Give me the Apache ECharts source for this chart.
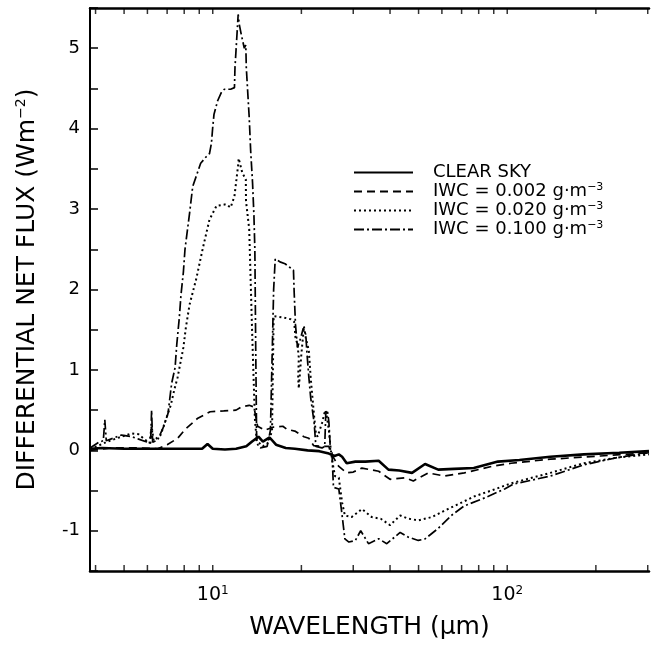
<!DOCTYPE html>
<html><head><meta charset="utf-8">
<script src="https://cdn.jsdelivr.net/npm/echarts@6/dist/echarts.min.js"></script>
<style>html,body{margin:0;padding:0;background:#fff}#c{width:652px;height:645px}</style>
</head><body><div id="c"></div>
<script>
const seriesNames = ['CLEAR SKY', 'IWC = 0.002 g·m-3', 'IWC = 0.020 g·m-3', 'IWC = 0.100 g·m-3'];

const clearSky = [[3.83,0.02],[4.2,0.03],[5,0.02],[6,0.02],[7,0.02],[8,0.02],[9.2,0.02],[9.6,0.08],[10.0,0.02],[11,0.01],[12,0.02],[13,0.05],[13.6,0.11],[14.3,0.17],[14.8,0.11],[15.6,0.16],[16.4,0.07],[17.7,0.03],[19,0.02],[21,0.0],[23,-0.01],[24.8,-0.04],[25.9,-0.07],[26.8,-0.05],[27.5,-0.08],[28.5,-0.16],[30.5,-0.14],[33,-0.14],[36.6,-0.13],[39.5,-0.24],[43,-0.25],[47.5,-0.28],[52.6,-0.17],[58.3,-0.24],[66,-0.23],[77,-0.22],[93,-0.14],[110,-0.12],[140,-0.08],[182,-0.05],[240,-0.03],[303,-0.01]];

const iwc002 = [[3.83,0.0],[4.5,0.03],[5.5,0.03],[6.5,0.02],[7.0,0.07],[7.6,0.15],[8.1,0.27],[8.9,0.4],[9.8,0.48],[10.9,0.49],[12.0,0.5],[12.5,0.54],[13.3,0.56],[13.8,0.54],[14.2,0.3],[15.0,0.25],[16.1,0.29],[17.3,0.3],[17.9,0.26],[19.0,0.24],[20.4,0.17],[21.2,0.15],[22.0,0.06],[23.3,0.05],[24.8,0.05],[25.1,-0.03],[25.8,-0.1],[26.8,-0.2],[28.5,-0.28],[30,-0.27],[32.1,-0.22],[36.6,-0.26],[40,-0.36],[45,-0.34],[48,-0.38],[53.9,-0.28],[61.2,-0.32],[71.5,-0.28],[88.3,-0.2],[103,-0.16],[140,-0.11],[207,-0.07],[303,-0.03]];

const iwc020 = [[3.83,0.02],[4.1,0.06],[4.4,0.11],[4.9,0.17],[5.3,0.21],[5.6,0.2],[5.9,0.13],[6.1,0.09],[6.2,0.3],[6.3,0.12],[6.65,0.19],[6.9,0.36],[7.2,0.56],[7.4,0.75],[7.6,0.91],[7.95,1.28],[8.1,1.52],[8.34,1.81],[8.8,2.14],[9.25,2.51],[9.75,2.87],[10.3,3.04],[11.1,3.06],[11.5,3.02],[11.85,3.16],[12.2,3.55],[12.25,3.63],[12.6,3.45],[12.95,3.37],[12.97,3.1],[13.3,2.75],[13.6,1.5],[13.9,0.4],[14.1,0.12],[14.8,0.05],[15.5,0.1],[15.9,0.25],[16.1,1.67],[17.5,1.65],[18.4,1.63],[18.9,1.6],[19.1,1.4],[19.4,1.32],[19.6,1.15],[19.5,0.9],[19.6,0.77],[20.0,1.2],[20.4,1.54],[20.7,1.4],[21.2,1.24],[21.5,0.91],[21.8,0.66],[22.1,0.42],[22.4,0.21],[22.7,0.17],[23.5,0.34],[24.1,0.5],[24.4,0.42],[24.8,0.25],[25.1,0.05],[25.4,-0.11],[26.0,-0.32],[26.8,-0.34],[27.5,-0.65],[28.1,-0.81],[29.6,-0.83],[32.1,-0.73],[34.7,-0.83],[37.2,-0.85],[40,-0.93],[43.3,-0.81],[46.2,-0.85],[49.9,-0.87],[55.4,-0.83],[61.2,-0.75],[68.1,-0.67],[77.6,-0.57],[88.3,-0.5],[103,-0.41],[140,-0.28],[182,-0.16],[236,-0.09],[303,-0.05]];

const iwc100 = [[3.83,0.03],[4.1,0.1],[4.25,0.12],[4.3,0.38],[4.35,0.12],[4.9,0.19],[5.3,0.17],[5.6,0.14],[5.9,0.11],[6.15,0.09],[6.2,0.5],[6.25,0.1],[6.5,0.13],[6.8,0.29],[7.05,0.46],[7.25,0.83],[7.45,1.03],[7.55,1.32],[7.7,1.65],[7.8,1.93],[7.95,2.22],[8.05,2.5],[8.35,2.96],[8.55,3.28],[9.1,3.57],[9.5,3.65],[9.75,3.69],[9.9,3.82],[10,4.02],[10.1,4.18],[10.4,4.35],[10.7,4.45],[10.95,4.49],[11.5,4.49],[11.85,4.51],[11.9,4.76],[12.05,5.09],[12.2,5.42],[12.3,5.3],[12.5,5.17],[12.8,5.0],[12.95,5.04],[13.0,4.76],[13.1,4.55],[13.3,4.14],[13.45,3.73],[13.65,3.33],[13.8,2.92],[13.9,2.5],[14.0,1.2],[14.1,0.09],[14.5,0.03],[15.3,0.05],[15.7,0.25],[16.1,2.0],[16.3,2.38],[17.0,2.34],[17.6,2.32],[18.2,2.28],[18.8,2.24],[18.9,1.97],[19.1,1.56],[19.4,1.28],[19.9,1.4],[20.3,1.52],[20.7,1.44],[20.9,1.2],[21.2,0.91],[21.5,0.66],[22.1,0.34],[22.4,0.05],[23.5,0.03],[24.0,0.05],[24.2,0.45],[24.5,0.5],[24.8,0.35],[25.1,0.0],[25.4,-0.03],[25.7,-0.46],[26.8,-0.48],[27.5,-0.81],[28.1,-1.1],[29,-1.14],[30.5,-1.12],[31.8,-1.0],[33.8,-1.16],[36.6,-1.1],[39,-1.16],[43.3,-1.02],[46.2,-1.08],[49.9,-1.12],[52.6,-1.1],[58.3,-0.97],[64.6,-0.81],[71.5,-0.69],[84,-0.59],[98,-0.48],[105,-0.42],[140,-0.32],[182,-0.18],[236,-0.09],[303,-0.03]];

const xTickValues = [4,5,6,7,8,9,10,20,30,40,50,60,70,80,90,100,200,300];
const xLabelValues = [10, 100];
const xLabelExponents = ['1', '2'];
const xMin = 3.83, xMax = 303;
const yMin = -1.5, yMax = 5.5, yStep = 0.5;

const FONT = 'DejaVu Sans';
const chart = echarts.init(document.getElementById('c'), null, {renderer: 'canvas'});

function legendLabel(name) {
  const m = name.match(/^(.*)-(\d)$/);
  if (!m) return '{t|' + name + '}';
  return '{t|' + m[1] + '}{s|−' + m[2] + '}';
}

const lineStyles = [
  {width: 2.6, type: 'solid'},
  {width: 1.7, type: [8, 5]},
  {width: 2, type: [2, 3]},
  {width: 1.7, type: [10, 3, 2, 3]}
];
const datasets = [clearSky, iwc002, iwc020, iwc100];

const series = datasets.map((d, i) => ({
  name: seriesNames[i],
  type: 'line',
  data: d,
  symbol: 'none',
  showSymbol: false,
  lineStyle: Object.assign({color: '#000'}, lineStyles[i]),
  itemStyle: {color: 'rgba(0,0,0,0)'},
  z: 3,
  silent: true
}));

series.push({
  type: 'scatter', silent: true, clip: false,
  data: xTickValues.map(v => [v, yMin]),
  symbol: 'rect', symbolSize: [1.5, 6], symbolOffset: [0, -3],
  itemStyle: {color: '#000'}
});
series.push({
  type: 'scatter', silent: true, clip: false,
  data: xTickValues.map(v => [v, yMax]),
  symbol: 'rect', symbolSize: [1.5, 6], symbolOffset: [0, 3],
  itemStyle: {color: '#000'}
});

chart.setOption({
  animation: false,
  backgroundColor: '#fff',
  grid: {left: 90, right: 0, top: 8, bottom: 69},
  legend: {
    data: seriesNames,
    orient: 'vertical',
    left: 353, top: 163, padding: 0,
    itemWidth: 59, itemHeight: 14, itemGap: 0,
    selectedMode: false,
    itemStyle: {opacity: 0, borderWidth: 0},
    formatter: legendLabel,
    textStyle: {
      padding: [0, 0, 0, 15],
      lineHeight: 19,
      rich: {
        t: {fontFamily: FONT, fontSize: 18, color: '#000', lineHeight: 19},
        s: {fontFamily: FONT, fontSize: 11, color: '#000', verticalAlign: 'top', lineHeight: 10}
      }
    }
  },
  xAxis: [{
    type: 'log', logBase: 10, min: xMin, max: xMax,
    position: 'bottom',
    axisLine: {show: true, onZero: false, lineStyle: {color: '#000', width: 2.5}},
    axisTick: {show: false},
    splitLine: {show: false},
    axisLabel: {
      margin: 14,
      formatter: v => {
        const k = xLabelValues.findIndex(t => Math.abs(t - v) < 1e-6);
        return k < 0 ? '' : '{b|10}{s|' + xLabelExponents[k] + '}';
      },
      rich: {
        b: {fontFamily: FONT, fontSize: 19, color: '#000', lineHeight: 20},
        s: {fontFamily: FONT, fontSize: 12, color: '#000', verticalAlign: 'top', lineHeight: 10}
      }
    },
    name: '{t|WAVELENGTH (μm)}',
    nameLocation: 'middle',
    nameGap: 44,
    nameTextStyle: {rich: {t: {fontFamily: FONT, fontSize: 25, color: '#000'}}}
  }, {
    type: 'log', logBase: 10, min: xMin, max: xMax,
    position: 'top',
    axisLine: {show: true, onZero: false, lineStyle: {color: '#000', width: 2.5}},
    axisTick: {show: false},
    axisLabel: {show: false},
    splitLine: {show: false}
  }],
  yAxis: {
    type: 'value', min: yMin, max: yMax, interval: yStep,
    axisLine: {show: true, onZero: false, lineStyle: {color: '#000', width: 2}},
    axisTick: {show: true, inside: true, length: 8, lineStyle: {color: '#000', width: 1.5}},
    splitLine: {show: false},
    axisLabel: {
      margin: 10,
      fontFamily: FONT, fontSize: 18, color: '#000',
      formatter: v => Number.isInteger(v) ? String(v) : ''
    },
    name: '{t|DIFFERENTIAL NET FLUX (Wm}{s|−2}{t|)}',
    nameLocation: 'middle',
    nameGap: 50,
    nameTextStyle: {rich: {
      t: {fontFamily: FONT, fontSize: 25, color: '#000', lineHeight: 26},
      s: {fontFamily: FONT, fontSize: 14, color: '#000', verticalAlign: 'top', lineHeight: 12}
    }}
  },
  series: series
});
</script></body></html>
